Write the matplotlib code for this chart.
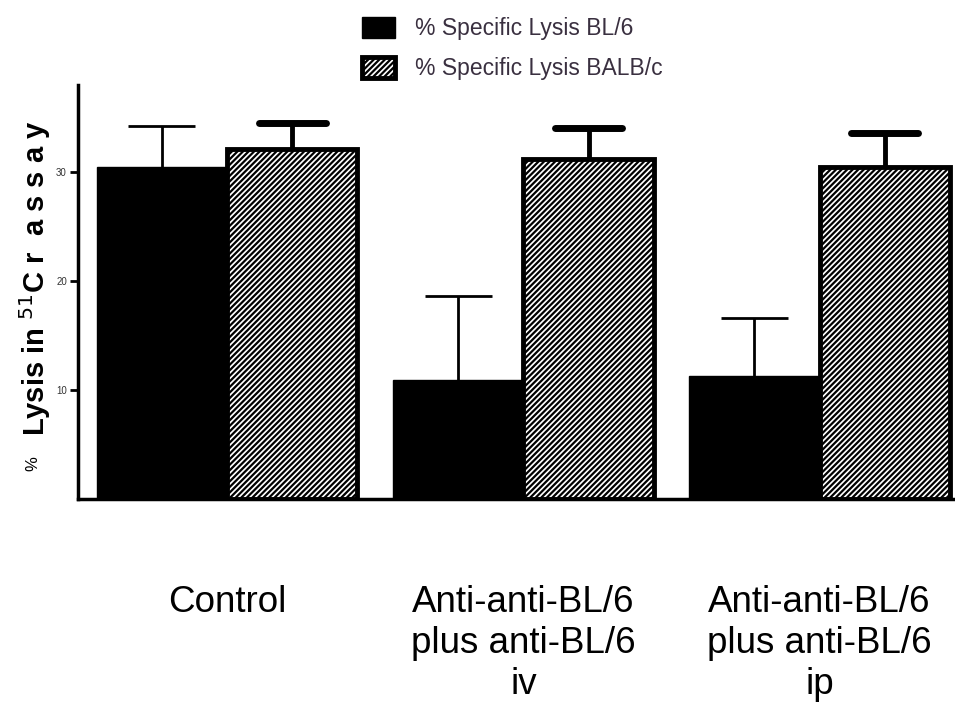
import matplotlib.pyplot as plt
import numpy as np

plt.rcParams['font.family'] = ['Liberation Sans', 'DejaVu Sans']
plt.rcParams['hatch.linewidth'] = 1.6

groups = ["Control", "Anti-anti-BL/6\nplus anti-BL/6\niv", "Anti-anti-BL/6\nplus anti-BL/6\nip"]
bl6 = [30.5, 10.9, 11.3]
bl6_err = [3.7, 7.7, 5.3]
balbc = [32.1, 31.2, 30.5]
balbc_err = [2.4, 2.8, 3.1]
series_names = ["% Specific Lysis BL/6", "% Specific Lysis BALB/c"]

fig = plt.figure(figsize=(9.55, 7.07), dpi=100)
ax = fig.add_axes([0.0817, 0.294, 0.918, 0.586])

x = np.arange(len(groups))
w = 0.44
cap = 0.113

b1 = ax.bar(x - w/2, bl6, w, color="black", edgecolor="black", linewidth=1, label=series_names[0])
top1 = np.array(bl6) + np.array(bl6_err)
ax.vlines(x - w/2, bl6, top1, color="black", linewidth=2)
ax.hlines(top1, x - w/2 - cap, x - w/2 + cap, color="black", linewidth=2)

b2 = ax.bar(x + w/2, balbc, w, color="white", edgecolor="black", hatch="//////",
            linewidth=3.5, label=series_names[1])
top2 = np.array(balbc) + np.array(balbc_err)
ax.vlines(x + w/2, balbc, top2, color="black", linewidth=3.5)
ax.hlines(top2, x + w/2 - cap, x + w/2 + cap, color="black", linewidth=5, capstyle="round")

ax.set_xlim(-0.503, 2.456)
ax.set_ylim(0, 38)
ax.set_yticks([10, 20, 30])
ax.set_yticklabels(["10", "20", "30"], fontsize=7, color="#333333")
ax.set_xticks(x)
ax.set_xticklabels(groups, fontsize=26.5, linespacing=1.22)
ax.tick_params(axis="x", length=0, pad=62)
ax.tick_params(axis="y", length=6, width=2, pad=2)
for s in ["top", "right"]:
    ax.spines[s].set_visible(False)
ax.spines["left"].set_linewidth(2.5)
ax.spines["bottom"].set_linewidth(2.5)

fig.text(0.037, 0.607, "Lysis in $^{51}$C r  a s s a y", rotation=90, fontsize=21,
         fontweight="bold", ha="center", va="center")
fig.text(0.034, 0.344, "%", rotation=90, fontsize=12, ha="center", va="center")

leg = fig.legend(handles=[b1, b2], loc="upper left", bbox_to_anchor=(0.357, 1.005),
                 frameon=False, prop={"family": ["Liberation Sans Narrow", "Liberation Sans"], "size": 16.5},
                 handlelength=1.45, handleheight=1.0, labelspacing=0.75, handletextpad=0.9)
for t in leg.get_texts():
    t.set_color("#3a3040")

fig.savefig("out.png", dpi=100)
